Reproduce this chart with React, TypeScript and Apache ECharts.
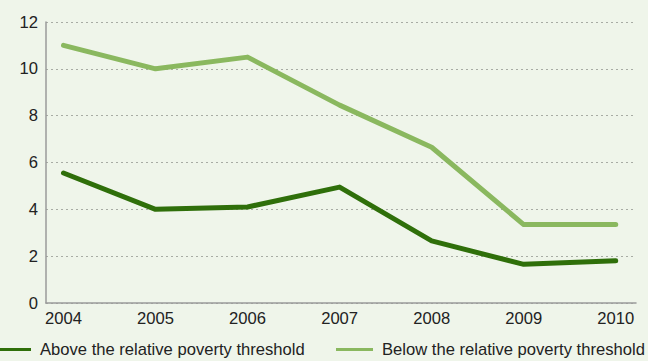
import React, { useEffect, useRef } from "react";
import * as echarts from "echarts";

const years = [2004, 2005, 2006, 2007, 2008, 2009, 2010];
const aboveValues = [5.55, 4.0, 4.1, 4.95, 2.65, 1.65, 1.8];
const belowValues = [11.0, 10.0, 10.5, 8.45, 6.65, 3.35, 3.35];
const yTicks = [0, 2, 4, 6, 8, 10, 12];
const aboveName = "Above the relative poverty threshold";
const belowName = "Below the relative poverty threshold";

export default function App() {
  const ref = useRef<HTMLDivElement>(null);
  useEffect(() => {
    if (!ref.current) return;
    const chart = echarts.init(ref.current, null, { renderer: "svg" });
    const font = "'Liberation Sans', Arial, sans-serif";
    const textColor = "#222";
    const fs = 16.6;
    chart.setOption({
      animation: false,
      backgroundColor: "#eff5ea",
      textStyle: { fontFamily: font },
      grid: { left: 46, right: 12, top: 22, bottom: 58 },
      xAxis: {
        type: "value",
        min: 2003.81,
        max: 2010.22,
        axisLine: { show: true, lineStyle: { color: "#9a9a9a", width: 1.5 } },
        axisTick: { show: false },
        splitLine: { show: false },
        axisLabel: {
          customValues: years,
          color: textColor,
          fontSize: fs,
          fontFamily: font,
          margin: 7,
          formatter: (v: number) => String(v),
        },
      },
      yAxis: {
        type: "value",
        min: 0,
        max: 12,
        interval: 2,
        axisLine: { show: true, lineStyle: { color: "#9a9a9a", width: 1.5 } },
        axisTick: { show: false },
        splitLine: {
          show: true,
          lineStyle: { color: "#a8aca4", type: [2, 3], width: 1 },
        },
        axisLabel: {
          customValues: yTicks,
          color: textColor,
          fontSize: fs,
          fontFamily: font,
          margin: 8,
        },
      },
      legend: [
        {
          data: [aboveName],
          left: 0,
          top: 341,
          padding: 0,
          itemWidth: 31,
          itemHeight: 3,
          itemGap: 10,
          icon: "rect",
          textStyle: { color: textColor, fontSize: fs, fontFamily: font, padding: [0, 0, 0, 4] },
        },
        {
          data: [belowName],
          left: 336,
          top: 341,
          padding: 0,
          itemWidth: 37,
          itemHeight: 3,
          icon: "rect",
          textStyle: { color: textColor, fontSize: fs, fontFamily: font, padding: [0, 0, 0, 4] },
        },
      ],
      series: [
        {
          name: aboveName,
          type: "line",
          data: years.map((y, i) => [y, aboveValues[i]]),
          symbol: "none",
          color: "#2f6f0a",
          lineStyle: { width: 5, cap: "round", join: "round" },
        },
        {
          name: belowName,
          type: "line",
          data: years.map((y, i) => [y, belowValues[i]]),
          symbol: "none",
          color: "#8ab85f",
          lineStyle: { width: 5, cap: "round", join: "round" },
        },
      ],
    });
    return () => chart.dispose();
  }, []);
  return (
    <div
      ref={ref}
      style={{ position: "fixed", left: 0, top: 0, width: 648, height: 361 }}
    />
  );
}
